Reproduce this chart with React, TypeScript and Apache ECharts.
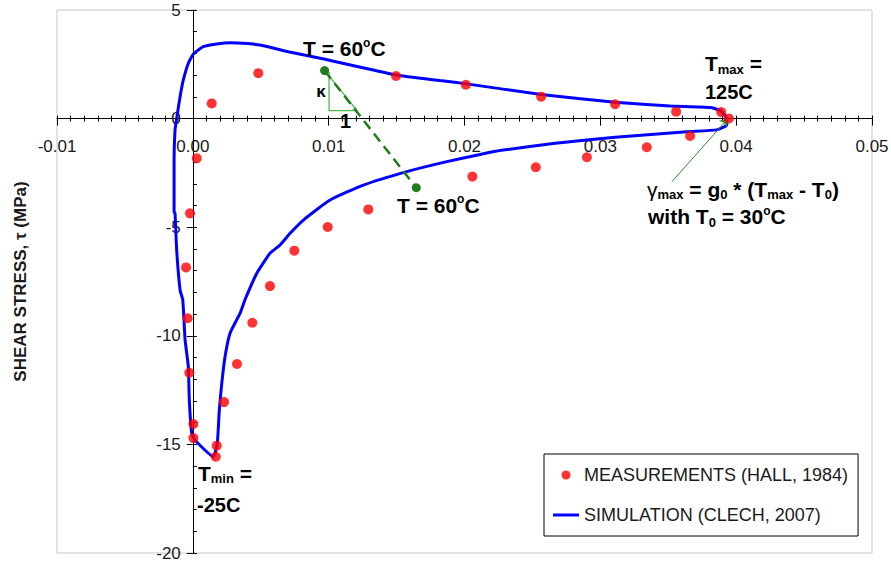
import React, { useEffect, useRef } from 'react';
import * as echarts from 'echarts';

const FONT = '"Liberation Sans", Arial, Helvetica, sans-serif';

// Measurements (Hall, 1984): shear strain gamma, shear stress tau (MPa)
const measX = [0.00139, 0.00482, 0.01496, 0.0201, 0.02564, 0.03109, 0.03558, 0.0389, 0.03946,
  0.03661, 0.03342, 0.02901, 0.02525, 0.02058, 0.01292, 0.00993, 0.00747, 0.00568, 0.00438,
  0.00325, 0.0023, 0.00176, 0.00169, 0.00004, 0.00004, -0.00026, -0.00038, -0.0005, -0.00021, 0.00029];
const measY = [0.7, 2.09, 1.96, 1.56, 1.01, 0.66, 0.32, 0.3, 0.01,
  -0.8, -1.32, -1.78, -2.24, -2.67, -4.18, -4.99, -6.08, -7.71, -9.4,
  -11.3, -13.05, -15.06, -15.57, -14.71, -14.06, -11.7, -9.19, -6.85, -4.36, -1.83];

// Simulation (Clech, 2007): closed hysteresis loop
const simX = [0.00016, -0.00008, -0.00026, -0.00033, -0.00057, -0.00074, -0.00094, -0.00119, -0.00131,
  -0.00138, -0.00138, -0.00131, -0.00119, -0.00094, -0.0007, -0.00033, 0.00004, 0.00077, 0.00176,
  0.00274, 0.00372, 0.00495, 0.00703, 0.00937, 0.01496, 0.0182, 0.02004, 0.02564, 0.03109, 0.03514,
  0.03808, 0.03882, 0.03931, 0.03931, 0.03858, 0.03637, 0.03109, 0.02652, 0.02284, 0.02115, 0.0187,
  0.01575, 0.01256, 0.0101, 0.00814, 0.00716, 0.00642, 0.00568, 0.00471, 0.00384, 0.00348, 0.00274,
  0.00237, 0.00213, 0.00195, 0.0018, 0.00151, 0.00016];
const simY = [-14.81, -14.49, -12.96, -11.42, -10.19, -8.35, -7.89, -6.05, -4.36,
  -4.29, -1.91, -0.52, 0.01, 1.01, 1.78, 2.55, 2.97, 3.31, 3.43,
  3.49, 3.47, 3.39, 3.08, 2.78, 2.01, 1.75, 1.61, 1.11, 0.755, 0.58,
  0.51, 0.38, 0.01, -0.29, -0.52, -0.6, -0.86, -1.15, -1.45, -1.65, -1.98,
  -2.44, -3.06, -3.75, -4.67, -5.28, -5.82, -6.2, -7.12, -8.34, -8.96, -9.88,
  -10.96, -12.19, -13.42, -14.95, -15.57, -14.81];

// Annotation geometry (data coordinates)
const slopeX = [0.0097, 0.01645];
const slopeY = [2.21, -3.18];
const triX = [0.01003, 0.01003, 0.0121, 0.0097];
const triY = [2.15, 0.37, 0.37, 2.21];
const arrowFrom = [0.03527, -2.905];
const arrowTo = [0.03941, 0.01];

const X_MIN = -0.01, X_MAX = 0.05, X_STEP = 0.01;
const Y_MIN = -20, Y_MAX = 5, Y_STEP = 5;

const MEAS_NAME = 'MEASUREMENTS (HALL, 1984)';
const SIM_NAME = 'SIMULATION (CLECH, 2007)';

const W = 891, H = 565;
const G_LEFT = 57, G_TOP = 10, G_RIGHT = 19, G_BOTTOM = 12;
const G_W = W - G_LEFT - G_RIGHT;
const G_H = H - G_TOP - G_BOTTOM;
// distance of the zero lines from the grid edges (axes cross at the origin)
const zeroFromBottom = (G_H * (0 - Y_MIN)) / (Y_MAX - Y_MIN);
const zeroFromTop = (G_H * (Y_MAX - 0)) / (Y_MAX - Y_MIN);
const zeroFromLeft = (G_W * (0 - X_MIN)) / (X_MAX - X_MIN);
const zeroFromRight = (G_W * (X_MAX - 0)) / (X_MAX - X_MIN);

const zip = (xs: number[], ys: number[]) => xs.map((x, i) => [x, ys[i]]);

const rich: any = {
  m: { fontSize: 21, fontWeight: 'bold', fontFamily: FONT, lineHeight: 24, fill: '#000', color: '#000' },
  n: { fontSize: 20, fontWeight: 'bold', fontFamily: FONT, lineHeight: 24, fill: '#000', color: '#000' },
  g: { fontSize: 21, fontFamily: FONT, lineHeight: 24, fill: '#000', color: '#000' },
  s: { fontSize: 13, fontWeight: 'bold', fontFamily: FONT, lineHeight: 12, verticalAlign: 'bottom', fill: '#000', color: '#000' },
  p: { fontSize: 12, fontWeight: 'bold', fontFamily: FONT, lineHeight: 16, verticalAlign: 'top', fill: '#000', color: '#000' },
};

const richText = (x: number, y: number, text: string, align = 'left') => ({
  type: 'text',
  x,
  y,
  z: 100,
  style: {
    text,
    rich,
    align,
    verticalAlign: 'middle',
    textAlign: align,
    textVerticalAlign: 'middle',
    fill: '#000',
  },
});

export default function App() {
  const ref = useRef<HTMLDivElement>(null);

  useEffect(() => {
    if (!ref.current) return;
    const chart = echarts.init(ref.current, undefined, { renderer: 'svg' });
    const axisBase = {
      type: 'value',
      splitLine: { show: false },
    };
    const option: any = {
      animation: false,
      backgroundColor: '#fff',
      textStyle: { fontFamily: FONT },
      grid: {
        left: G_LEFT, top: G_TOP, right: G_RIGHT, bottom: G_BOTTOM,
        containLabel: false,
        outerBoundsMode: 'none',
        show: true, borderColor: '#c8c8c8', borderWidth: 1, backgroundColor: 'transparent',
      },
      xAxis: [
        {
          ...axisBase,
          min: X_MIN, max: X_MAX, interval: X_STEP, position: 'bottom',
          offset: -zeroFromBottom,
          axisLine: { show: true, onZero: false, lineStyle: { color: '#000', width: 1 } },
          axisTick: { show: true, length: 7, lineStyle: { color: '#000', width: 1 } },
          minorTick: { show: true, splitNumber: 10, length: 3, lineStyle: { color: '#000', width: 1 } },
          axisLabel: {
            show: true, margin: 19, fontSize: 17, color: '#1a1a1a', fontFamily: FONT,
            formatter: (v: number) => v.toFixed(2),
          },
        },
        {
          ...axisBase,
          min: X_MIN, max: X_MAX, interval: X_STEP, position: 'top',
          offset: -zeroFromTop,
          axisLine: { show: false, onZero: false },
          axisTick: { show: true, length: 3, lineStyle: { color: '#000', width: 1 } },
          minorTick: { show: true, splitNumber: 10, length: 3, lineStyle: { color: '#000', width: 1 } },
          axisLabel: { show: false },
        },
      ],
      yAxis: [
        {
          ...axisBase,
          min: Y_MIN, max: Y_MAX, interval: Y_STEP, position: 'left',
          offset: -zeroFromLeft,
          name: 'SHEAR STRESS, τ (MPa)',
          nameLocation: 'middle',
          nameGap: 164,
          nameRotate: 90,
          nameTextStyle: { fontSize: 17, fontWeight: 'bold', color: '#1a1a1a', fontFamily: FONT },
          axisLine: { show: true, onZero: false, lineStyle: { color: '#000', width: 1 } },
          axisTick: { show: true, length: 6, lineStyle: { color: '#000', width: 1 } },
          minorTick: { show: false },
          axisLabel: { show: true, margin: 12, fontSize: 17, color: '#1a1a1a', fontFamily: FONT },
        },
        {
          ...axisBase,
          min: Y_MIN, max: Y_MAX, interval: Y_STEP, position: 'right',
          offset: -zeroFromRight,
          axisLine: { show: false, onZero: false },
          axisTick: { show: true, length: 4, lineStyle: { color: '#000', width: 1 } },
          minorTick: { show: true, splitNumber: 5, length: 4, lineStyle: { color: '#000', width: 1 } },
          axisLabel: { show: false },
        },
      ],
      legend: {
        orient: 'vertical',
        left: 544,
        top: 454,
        padding: [12, 10, 12, 9],
        itemGap: 22,
        itemWidth: 26,
        itemHeight: 9,
        borderColor: '#000',
        borderWidth: 1,
        backgroundColor: '#fff',
        textStyle: { fontSize: 18, color: '#1a1a1a', fontFamily: FONT },
        data: [
          { name: MEAS_NAME, icon: 'circle' },
          { name: SIM_NAME, icon: 'path://M0,0 H26 V3 H0 Z' },
        ],
      },
      series: [
        {
          name: SIM_NAME,
          type: 'line',
          data: zip(simX, simY),
          showSymbol: false,
          symbol: 'none',
          smooth: 0.15,
          lineStyle: { color: '#0000ff', width: 3 },
          itemStyle: { color: '#0000ff' },
          z: 2,
        },
        {
          name: 'kappa',
          type: 'line',
          data: zip(triX, triY),
          showSymbol: false,
          symbol: 'none',
          lineStyle: { color: '#4cb84c', width: 1.3 },
          z: 3,
          markLine: {
            silent: true,
            symbol: ['none', 'arrow'],
            symbolSize: 8,
            label: { show: false },
            lineStyle: { color: '#2e8b2e', width: 1, type: 'solid' },
            data: [[{ coord: arrowFrom }, { coord: arrowTo }]],
          },
        },
        {
          name: 'slope',
          type: 'line',
          data: zip(slopeX, slopeY),
          symbol: 'circle',
          symbolSize: 9,
          showSymbol: true,
          lineStyle: { color: '#1f7d1f', width: 2.5, type: [10, 6] },
          itemStyle: { color: '#1f7d1f' },
          z: 4,
        },
        {
          name: MEAS_NAME,
          type: 'scatter',
          data: zip(measX, measY),
          symbol: 'circle',
          symbolSize: 10,
          itemStyle: { color: '#ff0000' },
          z: 5,
        },
      ],
      graphic: [
        richText(303, 48.5, '{m|T = 60}{p|o}{m|C}'),
        richText(397, 205, '{m|T = 60}{p|o}{m|C}'),
        {
          type: 'text', x: 321, y: 91, z: 100,
          style: { text: 'κ', fontSize: 17, fontWeight: 'bold', fontFamily: FONT, fill: '#000',
            align: 'center', verticalAlign: 'middle', textAlign: 'center', textVerticalAlign: 'middle' },
        },
        {
          type: 'text', x: 345.5, y: 120.5, z: 100,
          style: { text: '1', fontSize: 20, fontWeight: 'bold', fontFamily: FONT, fill: '#000',
            align: 'center', verticalAlign: 'middle', textAlign: 'center', textVerticalAlign: 'middle' },
        },
        richText(705, 63.5, '{m|T}{s|max}{m| =}'),
        richText(705, 91.5, '{n|125C}'),
        richText(198, 473, '{m|T}{s|min}{m| =}'),
        richText(197, 505, '{n|-25C}'),
        richText(647, 189, '{g|γ}{s|max}{m| = g}{s|0}{m| * (T}{s|max}{m| - T}{s|0}{m|)}'),
        richText(648, 216.5, '{m|with T}{s|0}{m| = 30}{p|o}{m|C}'),
      ],
    };
    chart.setOption(option);
    return () => chart.dispose();
  }, []);

  return (
    <div
      ref={ref}
      style={{ position: 'fixed', left: 0, top: 0, width: W, height: H, background: '#fff' }}
    />
  );
}
